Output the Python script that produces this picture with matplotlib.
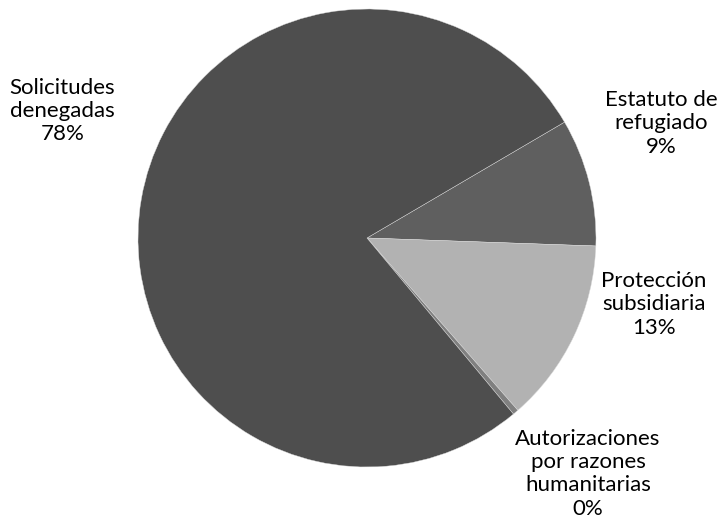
import matplotlib
matplotlib.use("Agg")
import matplotlib.pyplot as plt

categorias = ["Estatuto de\nrefugiado", "Protección\nsubsidiaria",
              "Autorizaciones\npor razones\nhumanitarias", "Solicitudes\ndenegadas"]
porcentajes = [9.0, 13.0, 0.4, 77.6]
colores = ["#5f5f5f", "#b2b2b2", "#808080", "#4e4e4e"]
# label centres, in units of the pie radius
pos_etiquetas = [(1.284, 0.50), (1.253, -0.29), (0.965, -1.03), (-1.33, 0.555)]

plt.rcParams["font.family"] = ["Lato", "DejaVu Sans"]

fig = plt.figure(figsize=(7.24, 5.28), dpi=100)
ax = fig.add_axes([0, 0, 1, 1])
ax.pie(porcentajes, colors=colores, startangle=30.4, counterclock=False,
       radius=1.0, center=(0, 0),
       wedgeprops=dict(edgecolor="#dddddd", linewidth=0.3))

for nombre, valor, (x, y) in zip(categorias, porcentajes, pos_etiquetas):
    ax.text(x, y, f"{nombre}\n{valor:.0f}%", ha="center", va="center",
            fontsize=16, color="black", linespacing=1.2)

ax.set_xlim(-367 / 229, (724 - 367) / 229)
ax.set_ylim(-(528 - 238) / 229, 238 / 229)
ax.set_aspect("equal")
ax.axis("off")
fig.savefig("out.png", dpi=100)
